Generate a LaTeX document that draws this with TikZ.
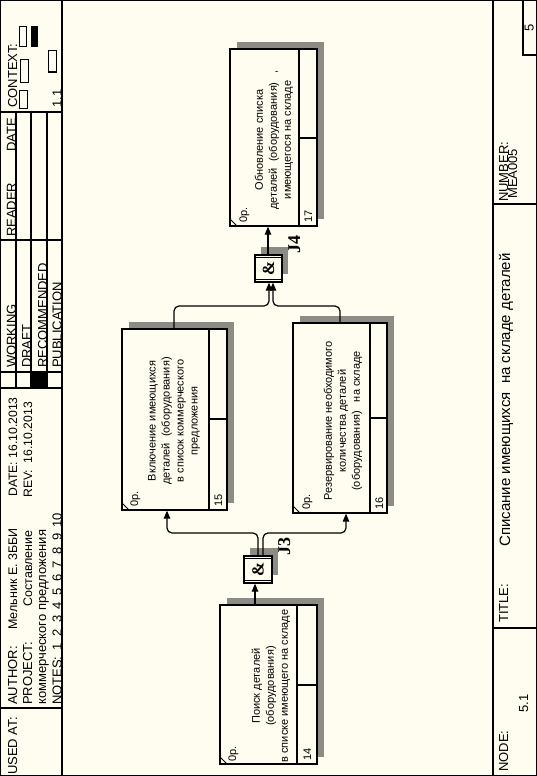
\documentclass[tikz,border=0pt]{standalone}
\usepackage{fontspec}
\setmainfont{Liberation Sans}
\newfontfamily\jfont{Liberation Serif}
\usetikzlibrary{arrows.meta,shadows}
\definecolor{bg}{RGB}{255,253,240}
\definecolor{shade}{RGB}{140,139,132}
\begin{document}
\begin{tikzpicture}[x=1pt,y=-1pt,
  ln/.style={line width=1.3pt},
  rt/.style={rotate=90,anchor=base west,inner sep=0pt,font=\fontsize{13}{15}\selectfont},
  rtn/.style={rotate=90,anchor=base west,inner sep=0pt,font=\fontsize{12.2}{15}\selectfont},
  rte/.style={rotate=90,anchor=base east,inner sep=0pt,font=\fontsize{12.5}{15}\selectfont},
  sm/.style={rotate=90,anchor=base west,inner sep=0pt,font=\fontsize{11}{13}\selectfont},
  boxtxt/.style={rotate=90,anchor=center,inner sep=0pt,align=center,font=\fontsize{11}{14}\selectfont},
  uob/.style={draw,line width=1.3pt,fill=bg,inner sep=0pt,
    drop shadow={shadow xshift=6.5pt,shadow yshift=7pt,opacity=1,fill=shade}},
  jbox/.style={draw,line width=1.3pt,fill=bg,inner sep=0pt,minimum width=28pt,minimum height=27pt,
    drop shadow={shadow xshift=6pt,shadow yshift=8pt,opacity=1,fill=shade}},
  amp/.style={rotate=90,inner sep=0pt,font=\jfont\bfseries\fontsize{17}{17}\selectfont},
  jl/.style={rotate=90,anchor=base west,inner sep=0pt,font=\jfont\bfseries\fontsize{18}{18}\selectfont},
  conn/.style={line width=1.2pt,rounded corners=5pt},
  arr/.style={-{Triangle[length=8pt,width=6.5pt]}},
]
\useasboundingbox (0,0) rectangle (537,776);
\fill[bg] (0,0) rectangle (537,776);

% ---------- frame ----------
\draw[ln] (0.7,0.7) rectangle (536.3,775.3);
\draw[ln] (62,0) -- (62,776);
\draw[ln] (493,0) -- (493,776);
% header horizontals
\draw[ln] (0,112) -- (62,112);
\draw[ln] (0,240) -- (62,240);
\draw[ln] (0,372) -- (62,372);
\draw[ln] (0,388) -- (62,388);
\draw[ln] (0,708) -- (62,708);
% header verticals
\draw[ln] (16,112) -- (16,388);
\draw[ln] (31,112) -- (31,388);
\draw[ln] (47,112) -- (47,388);
\fill (31,372) rectangle (47,388);
% context rectangles
\draw[line width=1pt] (19.5,27) rectangle (26.5,47);
\fill (31,26) rectangle (38,47.5);
\draw[line width=1pt] (20.5,60) rectangle (28,82);
\draw[line width=1pt] (19.5,90) rectangle (27,108);
\draw[line width=1pt] (48.5,51) rectangle (56.5,72);
% footer lines
\draw[ln] (493,204) -- (537,204);
\draw[ln] (493,628) -- (537,628);
\draw[ln] (523,0) -- (523,55) -- (537,55);

% ---------- header text ----------
\node[rt] (usedat) at (17,775) {USED AT:};
\node[rt] (author) at (17,705) {AUTHOR:};
\node[rte] (authorv) at (17,528) {Мельник Е. 3ББИ};
\node[rtn] (datel) at (17,497) {DATE:\ 16.10.2013};
\node[rt] (project) at (32,705) {PROJECT:};
\node[rte] (projectv) at (32,530) {Составление};
\node[rtn] (revl) at (32,498) {REV:\ \ 16.10.2013};
\node[rt] (project2) at (46,705) {коммерческого предложения};
\node[rt] (notes) at (61.5,705) {NOTES:\hspace{6.4pt}1\hspace{6.4pt}2\hspace{6.4pt}3\hspace{6.4pt}4\hspace{6.4pt}5\hspace{6.4pt}6\hspace{6.4pt}7\hspace{6.4pt}8\hspace{6.4pt}9\hspace{6.4pt}10};
\node[rt] (working) at (16,368) {WORKING};
\node[rt] (draft) at (31,368) {DRAFT};
\node[rt] (recom) at (47,368) {RECOMMENDED};
\node[rt] (publ) at (61.5,368) {PUBLICATION};
\node[rt] (reader) at (16,237) {READER};
\node[rt] (date2) at (16,152) {DATE};
\node[rt] (context) at (17,108) {CONTEXT:};
\node[rt] (ctxnum) at (61.5,108) {1.1};

% ---------- footer text ----------
\node[rt] (numberl) at (508,202) {NUMBER:};
\node[rt] (numberv) at (517,199) {MEA005};
\node[rt] (page) at (533.5,32) {5};
\node[rt] (titlel) at (508,623) {TITLE:};
\node[rotate=90,anchor=base,inner sep=0pt,font=\fontsize{15}{18}\selectfont] (title) at (510,400) {Списание имеющихся\ \ на складе деталей};
\node[rt] (nodel) at (508,772) {NODE:};
\node[rt] (nodev) at (528,713) {5.1};

% ---------- UOB boxes ----------
\node[uob,minimum width=97pt,minimum height=159pt] (b14) at (268.5,684.5) {};
\node[uob,minimum width=105pt,minimum height=181pt] (b15) at (174.5,419.5) {};
\node[uob,minimum width=94pt,minimum height=190pt] (b16) at (340,418) {};
\node[uob,minimum width=87pt,minimum height=177pt] (b17) at (273.5,137.5) {};

% box 14 internals
\draw[ln] (297,605) -- (297,764);
\draw[ln] (297,685) -- (317,685);
\draw[line width=0.8pt] (220,757) -- (227,764);
\node[boxtxt] (t14) at (271,686) {Поиск деталей\\(оборудования)\\в списке имеющего на складе};
\node[sm] (op14) at (236,762) {0р.};
\node[sm] (n14) at (311,761) {14};
% box 15 internals
\draw[ln] (209,329) -- (209,510);
\draw[ln] (209,419) -- (227,419);
\draw[line width=0.8pt] (122,503) -- (129,510);
\node[boxtxt] (t15) at (174,421) {Включение имеющихся\\деталей\ \ (оборудования)\\в список коммерческого\\предложения};
\node[sm] (op15) at (138,507) {0р.};
\node[sm] (n15) at (222,507) {15};
% box 16 internals
\draw[ln] (370,323) -- (370,513);
\draw[ln] (370,418) -- (387,418);
\draw[line width=0.8pt] (293,506) -- (300,513);
\node[boxtxt] (t16) at (343,421) {Резервирование необходимого\\количества деталей\\(оборудования)\ \ \ на складе};
\node[sm] (op16) at (310,510) {0р.};
\node[sm] (n16) at (383,510) {16};
% box 17 internals
\draw[ln] (299,49) -- (299,226);
\draw[ln] (299,138) -- (317,138);
\draw[line width=0.8pt] (230,219) -- (237,226);
\node[boxtxt] (t17) at (274,140) {Обновление списка\\деталей\ \ (оборудования)\ \ \ ,\\имеющегося на складе};
\node[sm] (op17) at (247,223) {0р.};
\node[sm] (n17) at (312,223) {17};

% ---------- junctions ----------
\node[jbox] (j3) at (258,569.5) {};
\draw[line width=1pt] ([yshift=-3.5pt]j3.north west) -- ([yshift=-3.5pt]j3.north east);
\draw[line width=1pt] ([yshift=3.5pt]j3.south west) -- ([yshift=3.5pt]j3.south east);
\node[amp] (j3amp) at (j3.center) {\&};
\node[jl] (j3lab) at (290,556) {J3};

\node[jbox,minimum width=27pt] (j4) at (268.5,268.5) {};
\draw[line width=1pt] ([yshift=-3.5pt]j4.north west) -- ([yshift=-3.5pt]j4.north east);
\draw[line width=1pt] ([yshift=3.5pt]j4.south west) -- ([yshift=3.5pt]j4.south east);
\node[amp] (j4amp) at (j4.center) {\&};
\node[jl] (j4lab) at (300,254) {J4};

% ---------- connectors ----------
\draw[conn,arr] (b14.north -| 255,0) -- (j3.south -| 255,0);
\draw[conn,arr] (j3.north -| 258,0) -- (258,533) -- (167,533) -- (b15.south -| 167,0);
\draw[conn,arr] (j3.north -| 263,0) -- (263,533) -- (346,533) -- (b16.south -| 346,0);
\draw[conn,arr] (b15.north -| 174,0) -- (174,306) -- (269,306) -- (j4.south -| 269,0);
\draw[conn,arr] (b16.north -| 340,0) -- (340,306) -- (273,306) -- (j4.south -| 273,0);
\draw[conn,arr] (j4.north -| 268,0) -- (b17.south -| 268,0);
\end{tikzpicture}
\end{document}
